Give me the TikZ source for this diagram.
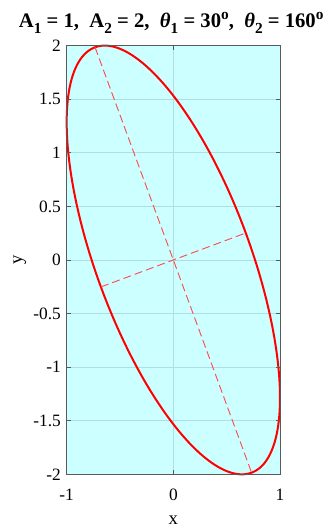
\documentclass[tikz,border=0pt]{standalone}
\usepackage{fontspec}
\setmainfont{Liberation Serif}
\usepackage{xcolor}
\usetikzlibrary{positioning}
\definecolor{plotbg}{HTML}{CCFFFF}
\definecolor{gridc}{RGB}{176,222,226}
\definecolor{boxc}{RGB}{90,90,90}
\newcommand{\lowidx}[1]{\raisebox{-0.6ex}{\fontsize{11.5}{12}\selectfont #1}}
\newcommand{\highidx}[1]{\raisebox{0.9ex}{\fontsize{11.5}{12}\selectfont #1}}

\begin{document}
\begin{tikzpicture}[x=80pt, y=80.4pt,
    gridline/.style={draw=gridc, line width=0.5pt},
    tick/.style={font=\fontsize{13}{15}\selectfont},
    curve/.style={draw=red, line width=1.5pt},
    axisline/.style={draw=red!70, line width=0.7pt, dash pattern=on 6pt off 3pt}
]
    \useasboundingbox (-1.625,-2.519) rectangle (1.488,2.425);
    % Plot area
    \fill[plotbg] (-1,-2) rectangle (1,2);
    \foreach \yy in {-1.5,-1,-0.5,0,0.5,1,1.5}
        \draw[gridline] (-1,\yy) -- (1,\yy);
    \draw[gridline] (0,-2) -- (0,2);

    % Ellipse
    \draw[curve] plot[domain=0:360, samples=240, smooth, variable=\t]
        ({cos(\t+30)},{2*cos(\t+160)}) -- cycle;

    % Principal axes
    \coordinate (majA) at (-0.7337,1.9841);
    \coordinate (majB) at (0.7337,-1.9841);
    \coordinate (minA) at (-0.6787,-0.2514);
    \coordinate (minB) at (0.6787,0.2514);
    \draw[axisline] (majA) -- (majB);
    \draw[axisline] (minA) -- (minB);

    % Box and ticks
    \draw[boxc, line width=0.6pt] (-1,-2) rectangle (1,2);
    \foreach \yy in {-1.5,-1,-0.5,0,0.5,1,1.5} {
        \draw[boxc, line width=0.6pt] (-1,\yy) -- ++(0.04,0);
        \draw[boxc, line width=0.6pt] (1,\yy) -- ++(-0.04,0);
    }
    \draw[boxc, line width=0.6pt] (0,-2) -- ++(0,0.04);
    \draw[boxc, line width=0.6pt] (0,2) -- ++(0,-0.04);

    % Tick labels
    \foreach \yy/\lab in {-2/-2,-1.5/-1.5,-1/-1,-0.5/-0.5,0/0,0.5/0.5,1/1,1.5/1.5,2/2}
        \node[tick, anchor=east, inner sep=1pt] (yt\lab) at (-1.04,\yy) {\lab};
    \foreach \xx in {-1,0,1}
        \node[tick] (xt\xx) at (\xx,-2.19) {\xx};

    % Labels
    \node[tick, font=\fontsize{14}{16}\selectfont] (xlab) at (0,-2.43) {x};
    \node[tick, font=\fontsize{14}{16}\selectfont, rotate=90] (ylab) at (-1.44,0) {y};
    \node[anchor=base, font=\fontsize{15.5}{17}\selectfont\bfseries] (title) at (-0.02,2.164)
        {A\lowidx{1} = 1,\ \ A\lowidx{2} = 2,\ \ \textit{θ}\lowidx{1} = 30\highidx{o},\ \ \textit{θ}\lowidx{2} = 160\highidx{o}};
\end{tikzpicture}
\end{document}
